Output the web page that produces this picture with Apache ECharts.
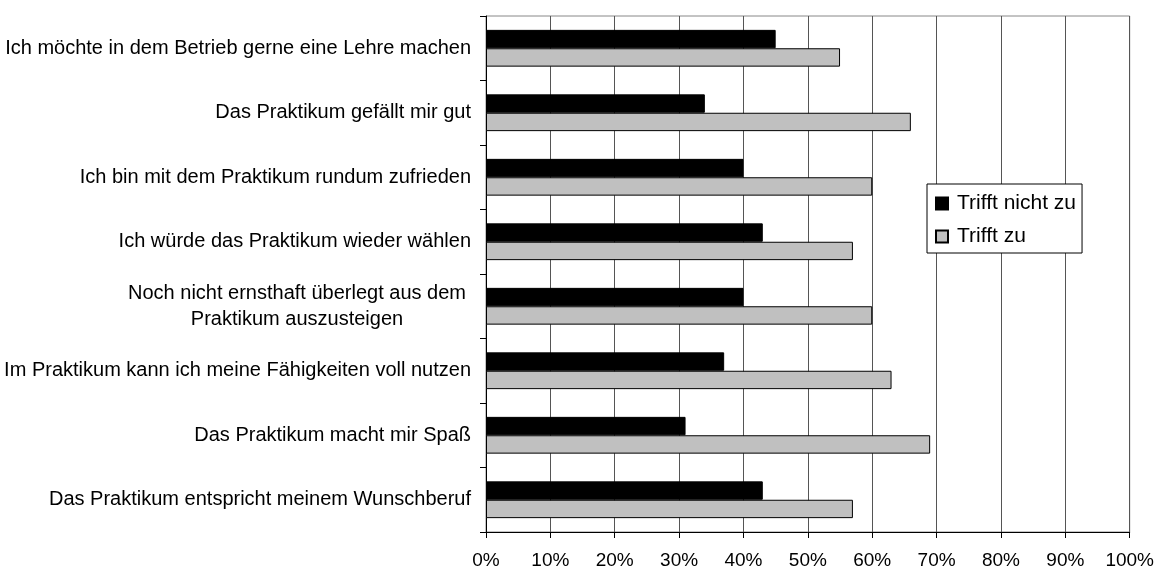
<!DOCTYPE html>
<html>
<head>
<meta charset="utf-8">
<script src="https://cdn.jsdelivr.net/npm/echarts@6/dist/echarts.min.js"></script>
<style>html,body{margin:0;padding:0;background:#fff}#c{width:1157px;height:570px}</style>
</head>
<body>
<div id="c"></div>
<script>
var categories = [
  'Ich möchte in dem Betrieb gerne eine Lehre machen',
  'Das Praktikum gefällt mir gut',
  'Ich bin mit dem Praktikum rundum zufrieden',
  'Ich würde das Praktikum wieder wählen',
  'Noch nicht ernsthaft überlegt aus dem\nPraktikum auszusteigen',
  'Im Praktikum kann ich meine Fähigkeiten voll nutzen',
  'Das Praktikum macht mir Spaß',
  'Das Praktikum entspricht meinem Wunschberuf'
];
var seriesNames = ['Trifft nicht zu', 'Trifft zu'];
var triffNichtZu = [45, 34, 40, 43, 40, 37, 31, 43];
var trifftZu = [55, 66, 60, 57, 60, 63, 69, 57];
var xTicks = [0, 10, 20, 30, 40, 50, 60, 70, 80, 90, 100];

var font = 'Liberation Sans, Arial, sans-serif';
var chart = echarts.init(document.getElementById('c'));
chart.setOption({
  animation: false,
  backgroundColor: '#fff',
  textStyle: { fontFamily: font },
  grid: {
    left: 486, right: 25, top: 16, bottom: 36,
    show: true, borderColor: '#888', borderWidth: 1, backgroundColor: 'transparent'
  },
  legend: {
    orient: 'vertical',
    left: 927, top: 184,
    padding: [9, 6, 6, 8],
    itemGap: 12,
    itemWidth: 12, itemHeight: 12,
    icon: 'rect',
    backgroundColor: '#fff',
    borderColor: '#000', borderWidth: 1,
    textStyle: { fontSize: 21, color: '#000', fontFamily: font, padding: [0, 0, 0, 4] },
    data: seriesNames
  },
  xAxis: {
    type: 'value', min: 0, max: 100, interval: 10,
    axisLine: { show: true, lineStyle: { color: '#000', width: 1 } },
    axisTick: { show: true, length: 6, lineStyle: { color: '#000' } },
    axisLabel: {
      color: '#000', fontSize: 19, fontFamily: font, margin: 19,
      formatter: function (v) { return xTicks.indexOf(v) >= 0 ? v + '%' : ''; }
    },
    splitLine: { show: true, lineStyle: { color: '#555', width: 1 } }
  },
  yAxis: {
    type: 'category', inverse: true, data: categories,
    axisLine: { show: true, onZero: false, lineStyle: { color: '#000', width: 1 } },
    axisTick: { show: true, length: 6, lineStyle: { color: '#000' } },
    axisLabel: {
      color: '#000', fontSize: 20, fontFamily: font, margin: 15,
      formatter: function (v) {
        if (v.indexOf('\n') >= 0) {
          return v.split('\n').map(function (s) { return '{c|' + s + '}'; }).join('\n');
        }
        return v;
      },
      rich: {
        c: { width: 348, align: 'center', fontSize: 20, color: '#000', fontFamily: font, lineHeight: 26 }
      }
    },
    splitLine: { show: false }
  },
  series: [
    {
      name: seriesNames[0], type: 'bar', data: triffNichtZu,
      barGap: '0%', barCategoryGap: '43%',
      itemStyle: { color: '#000', borderColor: '#000', borderWidth: 1 }
    },
    {
      name: seriesNames[1], type: 'bar', data: trifftZu,
      barGap: '0%', barCategoryGap: '43%',
      itemStyle: { color: '#c0c0c0', borderColor: '#000', borderWidth: 1 }
    }
  ]
});
</script>
</body>
</html>
